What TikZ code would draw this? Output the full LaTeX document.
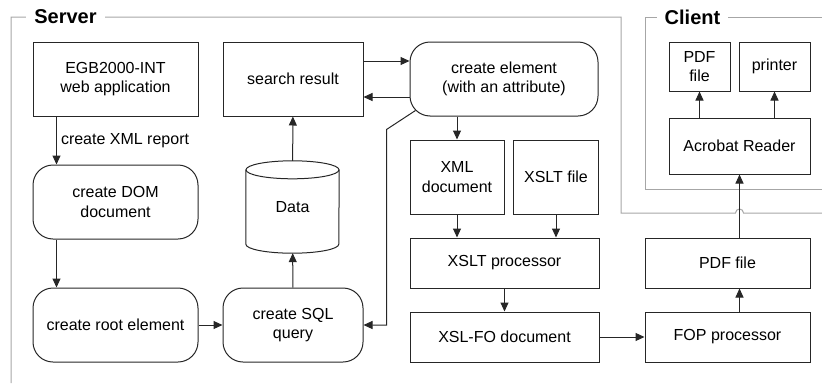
\documentclass[tikz,border=0pt]{standalone}
\usepackage{fontspec}
\setmainfont{Liberation Sans}
\usepackage{tikz}
\usetikzlibrary{positioning}
\usetikzlibrary{arrows.meta}

\begin{document}
\begin{tikzpicture}[x=1pt, y=-1pt,
    font=\fontsize{16}{19.5}\selectfont,
    >={Triangle[length=9pt,width=8pt]},
    box/.style={draw=black!85, line width=1pt, align=center, inner sep=2pt},
    roundbox/.style={box, rounded corners=20pt},
    frame/.style={draw=black!35, line width=1pt},
    framelabel/.style={fill=white, font=\fontsize{20}{24}\selectfont\bfseries, inner xsep=8pt},
    link/.style={->, line width=1pt, draw=black!85}]
        \useasboundingbox (0,0) rectangle (822,383);

        \draw[frame] (11,383) -- (11,17) -- (621,17) -- (621,213) -- (735.5,213) arc[start angle=180, end angle=0, radius=4pt] -- (822,213);
        \node[framelabel] (server) at (65.5,17) {Server};
        \draw[frame] (822,17) -- (645,17) -- (645,189) -- (822,189);
        \node[framelabel] (client) at (692.5,17) {Client};

        \node[box, minimum width=165pt, minimum height=74pt] (egb) at (115.5,79) {EGB2000-INT\\web application};
        \node[roundbox, below of=egb, node distance=123pt, minimum width=165pt, minimum height=74pt] (dom) {create DOM\\document};
        \node[roundbox, below of=dom, node distance=123pt, minimum width=165pt, minimum height=74pt] (root) {create root element};
        \node[box, minimum width=140pt, minimum height=74pt] (search) at (293,79) {search result};
        \node[minimum width=93pt, minimum height=92pt, inner sep=0pt] (data) at (292.5,207) {Data};
        \node[roundbox, right of=root, node distance=177.5pt, minimum width=140pt, minimum height=74pt] (sql) {create SQL\\query};
        \node[roundbox, minimum width=188pt, minimum height=74pt] (celem) at (504,79) {create element\\(with an attribute)};
        \node[box, minimum width=94pt, minimum height=74pt] (xmldoc) at (457,177) {XML\\document};
        \node[box, minimum width=85pt, minimum height=74pt] (xsltfile) at (556,177) {XSLT file};
        \node[box, minimum width=189pt, minimum height=50pt] (xsltproc) at (504.5,263) {XSLT processor};
        \node[box, below of=xsltproc, node distance=74pt, minimum width=189pt, minimum height=50pt] (xslfo) {XSL-FO document};
        \node[box, minimum width=165pt, minimum height=50pt] (fop) at (727.5,337) {FOP processor};
        \node[box, above of=fop, node distance=74pt, minimum width=165pt, minimum height=50pt] (pdf) {PDF file};
        \node[box, minimum width=141pt, minimum height=56pt] (acro) at (739.5,146) {Acrobat Reader};
        \node[box, minimum width=61pt, minimum height=49pt] (pdfc) at (699.5,66.5) {PDF\\file};
        \node[box, minimum width=71pt, minimum height=49pt] (printer) at (774.5,66.5) {printer};

        \draw[line width=1pt, black!85] ([yshift=-9pt]data.north) ellipse [x radius=46.5pt, y radius=9pt];
        \draw[line width=1pt, black!85] ([yshift=-9pt]data.north west) -- ([yshift=9pt]data.south west) arc[start angle=180, end angle=360, x radius=46.5pt, y radius=9pt] -- ([yshift=-9pt]data.north east);

        \draw[link] ([xshift=24pt]egb.south west) -- node[right, inner sep=4pt, text=black] (xmlreport) {create XML report} ([xshift=24pt]dom.north west);
        \draw[link] ([xshift=24pt]dom.south west) -- ([xshift=24pt]root.north west);
        \draw[link] (root) -- (sql);
        \draw[link] (sql) -- (data);
        \draw[link] (data) -- (search);
        \draw[link] ([yshift=18pt]search.east) -- ([yshift=18pt]celem.west);
        \draw[link] ([yshift=-18pt]celem.west) -- ([yshift=-18pt]search.east);
        \draw[link] ([xshift=6pt,yshift=6pt]celem.south west) -- ++(-29,19) |- (sql.east);
        \draw[link] (xmldoc.north |- celem.south) -- (xmldoc.north);
        \draw[link] (xmldoc.south) -- (xmldoc.south |- xsltproc.north);
        \draw[link] (xsltfile.south) -- (xsltfile.south |- xsltproc.north);
        \draw[link] (xsltproc) -- (xslfo);
        \draw[link] (xslfo) -- (fop);
        \draw[link] (acro.south |- fop.north) -- (acro.south |- pdf.south);
        \draw[link] (acro.south |- pdf.north) -- (acro.south);
        \draw[link] (pdfc.south |- acro.north) -- (pdfc.south);
        \draw[link] (printer.south |- acro.north) -- (printer.south);
    \end{tikzpicture}
\end{document}
